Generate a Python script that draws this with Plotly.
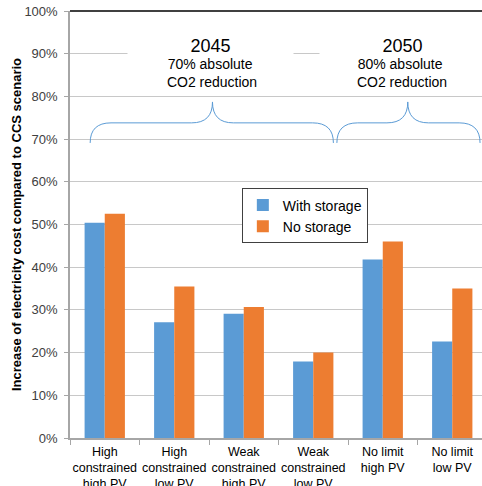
import plotly.graph_objects as go

# Scenario categories and cost increases (%)
categories = [
    "High<br>constrained<br>high PV",
    "High<br>constrained<br>low PV",
    "Weak<br>constrained<br>high PV",
    "Weak<br>constrained<br>low PV",
    "No limit<br>high PV",
    "No limit<br>low PV",
]
with_storage = [50.4, 27.1, 29.1, 17.9, 41.8, 22.6]
no_storage = [52.5, 35.5, 30.7, 20.0, 46.0, 35.0]
y_ticks = [0, 10, 20, 30, 40, 50, 60, 70, 80, 90, 100]

BLUE = "#5B9BD5"
ORANGE = "#ED7D31"
FONT = "Liberation Sans, Arial, sans-serif"

x_pos = list(range(len(categories)))

fig = go.Figure()
fig.add_trace(go.Bar(x=x_pos, y=with_storage, name="With storage",
                     marker=dict(color=BLUE, line=dict(width=0))))
fig.add_trace(go.Bar(x=x_pos, y=no_storage, name="No storage",
                     marker=dict(color=ORANGE, line=dict(width=0))))


def brace_path(x0, x1, xp, yb, yf, yt, r):
    """Curly brace opening downward: ends at yb, flat at yf, tip at yt."""
    return (f"M {x0},{yb} Q {x0},{yf} {x0 + r},{yf} "
            f"L {xp - r},{yf} Q {xp},{yf} {xp},{yt} "
            f"Q {xp},{yf} {xp + r},{yf} "
            f"L {x1 - r},{yf} Q {x1},{yf} {x1},{yb}")


shapes = [
    dict(type="path", xref="x", yref="y", layer="above",
         path=brace_path(-0.21, 3.29, 1.55, 69.1, 73.8, 78.7, 0.3),
         line=dict(color=BLUE, width=1)),
    dict(type="path", xref="x", yref="y", layer="above",
         path=brace_path(3.34, 5.40, 4.36, 69.1, 73.8, 78.7, 0.3),
         line=dict(color=BLUE, width=1)),
    # frame line along the top of the plot area
    dict(type="line", xref="paper", yref="paper", x0=0, x1=1, y0=1, y1=1,
         line=dict(color="black", width=1.5), layer="above"),
]

annotations = [
    dict(x=1.52, y=91.8, xref="x", yref="y", text="2045", showarrow=False,
         font=dict(size=18, color="black", family=FONT), bgcolor="white",
         width=163, height=26, yanchor="middle"),
    dict(x=1.52, y=85.4, xref="x", yref="y",
         text="70% absolute<br> CO2 reduction", showarrow=False,
         font=dict(size=14, color="black", family=FONT),
         yanchor="middle"),
    dict(x=4.28, y=91.8, xref="x", yref="y", text="2050", showarrow=False,
         font=dict(size=18, color="black", family=FONT), bgcolor="white",
         width=163, height=26, yanchor="middle"),
    dict(x=4.25, y=85.4, xref="x", yref="y",
         text="80% absolute<br> CO2 reduction", showarrow=False,
         font=dict(size=14, color="black", family=FONT),
         yanchor="middle"),
]

fig.update_layout(
    width=482, height=486,
    margin=dict(l=70, r=0, t=11, b=48),
    paper_bgcolor="white", plot_bgcolor="white",
    barmode="group", bargap=0.42, bargroupgap=0,
    font=dict(family=FONT, size=13, color="#404040"),
    showlegend=True,
    shapes=shapes, annotations=annotations,
    legend=dict(
        x=0.570, y=0.52, xanchor="center", yanchor="middle",
        bgcolor="white", bordercolor="#404040", borderwidth=1,
        font=dict(size=14, color="black", family=FONT),
        tracegroupgap=0,
    ),
)

fig.update_xaxes(
    range=[-0.5, -0.5 + 412 / 69.5],
    automargin=False,
    tickvals=x_pos, ticktext=categories, ticks="",
    ticklabelstandoff=1,
    showgrid=False, zeroline=False,
    showline=True, linecolor="#A6A6A6", linewidth=1.5,
    tickfont=dict(size=12.5, color="black", family=FONT),
    minor=dict(tickvals=[i - 0.5 for i in range(len(categories) + 1)],
               ticks="outside", ticklen=5, tickcolor="#A6A6A6",
               showgrid=False),
)

fig.update_yaxes(
    range=[0, 100], tickvals=y_ticks,
    automargin=False,
    ticktext=[f"{v}%" for v in y_ticks],
    showgrid=True, gridcolor="#C8C8C8", gridwidth=1.2,
    zeroline=False,
    showline=True, linecolor="#A6A6A6", linewidth=1.5,
    ticks="outside", ticklen=4, tickcolor="#A6A6A6",
    ticklabelstandoff=4,
    tickfont=dict(size=13, color="#404040", family=FONT),
    title=dict(text="<b>Increase of electricity cost compared to CCS scenario</b>",
               font=dict(size=13, color="black", family=FONT), standoff=0),
)

fig.write_html("out.html")
